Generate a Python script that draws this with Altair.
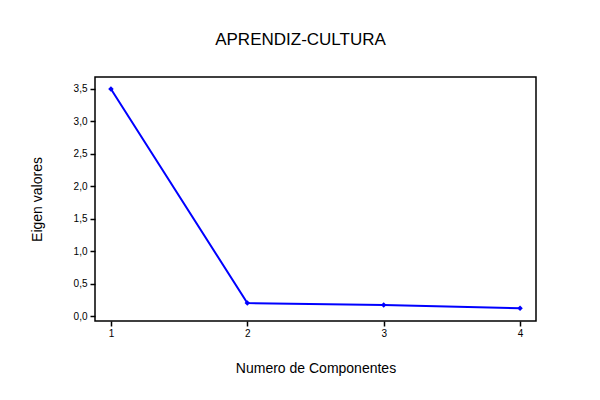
import altair as alt
import pandas as pd

componentes = [1, 2, 3, 4]
eigen = [3.5, 0.20, 0.17, 0.12]

df = pd.DataFrame({"comp": componentes, "eig": eigen})

x = alt.X("comp:Q", scale=alt.Scale(domain=[0.883, 4.117], nice=False, zero=False),
          axis=alt.Axis(values=componentes, format="d", title="Numero de Componentes",
                        grid=False, domain=False, tickColor="black", tickSize=5, tickWidth=1.5,
                        labelFontSize=10, labelColor="black", labelPadding=2,
                        titleFontSize=14, titleFontWeight="normal", titleColor="black",
                        titlePadding=23, titleFont="Liberation Sans", labelFont="Liberation Sans"))
y = alt.Y("eig:Q", scale=alt.Scale(domain=[-0.077, 3.685], nice=False, zero=False),
          axis=alt.Axis(values=[0, 0.5, 1, 1.5, 2, 2.5, 3, 3.5], title="Eigen valores",
                        labelExpr="replace(format(datum.value, '.1f'), '.', ',')",
                        grid=False, domain=False, tickColor="black", tickSize=5, tickWidth=1.5,
                        labelFontSize=10, labelColor="black", labelPadding=3,
                        titleFontSize=14, titleFontWeight="normal", titleColor="black",
                        titlePadding=29, titleFont="Liberation Sans", labelFont="Liberation Sans"))

line = alt.Chart(df).mark_line(color="#0000ff", strokeWidth=2).encode(x=x, y=y)
pts = alt.Chart(df).mark_point(shape="diamond", filled=True, color="#0000ff", size=30, opacity=1).encode(x=x, y=y)

chart = (line + pts).properties(
    width=441, height=244,
    background="white",
    autosize=alt.AutoSizeParams(type="none"),
    padding={"left": 87, "top": 69, "right": 48, "bottom": 63},
    title=alt.TitleParams("APRENDIZ-CULTURA", fontSize=17, fontWeight="normal",
                          font="Liberation Sans", color="black", offset=28, dx=-15),
).configure_view(stroke="black", strokeWidth=1.5)

chart.save("out.html", embed_options={"renderer": "svg", "actions": False})
